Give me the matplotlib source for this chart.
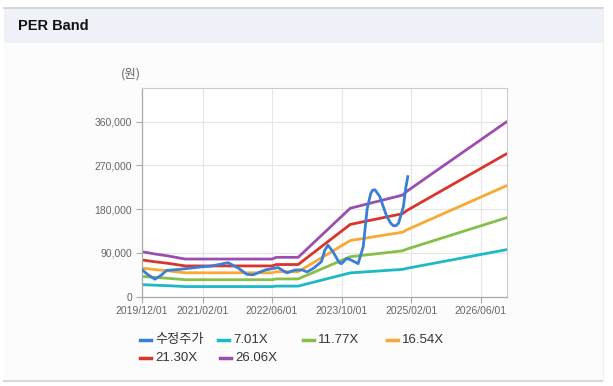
import matplotlib
matplotlib.use("Agg")
import matplotlib.pyplot as plt
from matplotlib.lines import Line2D
from matplotlib.patches import Rectangle
import numpy as np
import pandas as pd

plt.rcParams['font.family'] = ['Liberation Sans', 'Noto Sans CJK KR', 'DejaVu Sans']

# ---------------- data ----------------
band_dates = ["2019-12-01", "2020-03-01", "2020-06-01", "2020-09-01", "2020-10-01",
              "2022-06-01", "2022-07-01", "2022-12-01", "2023-12-01", "2024-12-01",
              "2025-01-01", "2026-12-01"]
band_701 = [24.9, 23.7, 22.6, 21.3, 20.8, 20.8, 21.8, 21.8, 49.0, 56.2, 58.4, 96.8]
band_1177 = [41.8, 39.8, 37.9, 35.7, 35.0, 35.0, 36.6, 36.6, 82.2, 94.4, 98.0, 162.6]
band_1654 = [58.8, 55.9, 53.3, 50.1, 49.2, 49.2, 51.4, 51.4, 115.5, 132.7, 137.7, 228.5]
band_2130 = [75.7, 71.9, 68.7, 64.6, 63.3, 63.3, 66.2, 66.2, 148.7, 170.8, 177.4, 294.2]
band_2606 = [92.6, 88.0, 84.0, 79.0, 77.5, 77.5, 81.0, 81.0, 182.0, 209.0, 217.0, 360.0]

price_dates = ["2019-12-01", "2020-01-15", "2020-03-03", "2020-04-15", "2020-05-23", "2020-08-13",
               "2021-01-13", "2021-04-01", "2021-07-28", "2021-10-01", "2021-12-07",
               "2022-01-19", "2022-04-15", "2022-07-13", "2022-09-13", "2022-11-10",
               "2022-12-31", "2023-02-01", "2023-03-16", "2023-05-13", "2023-06-05",
               "2023-06-28", "2023-08-03", "2023-09-07", "2023-09-20", "2023-10-01", "2023-11-07",
               "2023-12-10", "2024-01-25", "2024-03-01", "2024-03-28", "2024-04-22",
               "2024-05-05", "2024-05-22", "2024-06-25", "2024-07-16", "2024-08-13", "2024-09-10",
               "2024-09-28", "2024-10-15", "2024-11-03", "2024-12-07", "2024-12-25", "2025-01-07"]
price = [56, 45, 36, 44, 54, 56,
         61, 63, 70, 60, 46,
         45, 55, 60, 49, 55,
         55, 51, 58, 72, 95,
         106, 92, 74, 69, 68, 79,
         75, 68, 103, 180, 212,
         219, 220, 206, 188, 165, 151,
         146, 146, 151, 185, 226, 247]

series_names = ["수정주가", "7.01X", "11.77X", "16.54X", "21.30X", "26.06X"]
series_colors = ["#3a7fd5", "#1fb8c9", "#86bf4a", "#f7a934", "#d9352a", "#9a4fb0"]

y_ticks = [0, 90000, 180000, 270000, 360000]
x_ticks = ["2019-12-01", "2021-02-01", "2022-06-01", "2023-10-01", "2025-02-01", "2026-06-01"]

# ---------------- figure ----------------
W, H = 613, 386
fig = plt.figure(figsize=(W / 100, H / 100), dpi=100)
fig.patch.set_facecolor("white")

def fx(px):
    return px / W

def fy(py):
    return 1 - py / H

# panel background and title band
fig.patches.append(Rectangle((fx(4), fy(381)), fx(603) - fx(4), fy(43) - fy(381),
                             transform=fig.transFigure, facecolor="#fcfcfc",
                             edgecolor="none", zorder=-2))
fig.patches.append(Rectangle((fx(4), fy(43)), fx(603) - fx(4), fy(7.5) - fy(43),
                             transform=fig.transFigure, facecolor="#eef2f8",
                             edgecolor="none", zorder=-2))
fig.lines.append(Line2D([fx(4), fx(603)], [fy(7.5), fy(7.5)], transform=fig.transFigure,
                        color="#d0d0d0", lw=1.2))
fig.lines.append(Line2D([fx(4), fx(603)], [fy(381), fy(381)], transform=fig.transFigure,
                        color="#d0d0d0", lw=1.2))
fig.lines.append(Line2D([fx(603), fx(603)], [fy(7.5), fy(381)], transform=fig.transFigure,
                        color="#eeeeee", lw=0.8))
fig.text(fx(18), fy(26), "PER Band", fontsize=10.5, fontweight="bold", color="#111111",
         va="center", ha="left", family=["Liberation Sans"])

ax = fig.add_axes([fx(141.7), fy(296.7), fx(506.7) - fx(141.7), fy(87.7) - fy(296.7)])
ax.set_facecolor("white")

bd = pd.to_datetime(band_dates)
pdts = pd.to_datetime(price_dates)
bands = [band_701, band_1177, band_1654, band_2130, band_2606]
for i, vals in enumerate(bands):
    ax.plot(bd, np.array(vals) * 1000, color=series_colors[i + 1], lw=2.0,
            solid_capstyle="round", zorder=2 + i * 0.01)
ax.plot(pdts, np.array(price) * 1000, color=series_colors[0], lw=2.0, zorder=3,
        solid_joinstyle="round")

ax.set_xlim(pd.Timestamp("2019-12-01"), pd.Timestamp("2026-12-01"))
ax.set_ylim(0, 430000)
ax.set_yticks(y_ticks)
ax.set_yticklabels([f"{v:,}" for v in y_ticks])
xt = pd.to_datetime(x_ticks)
ax.set_xticks(xt)
ax.set_xticklabels([d.strftime("%Y/%m/%d") for d in xt])

ax.grid(True, color="#e6e6e6", lw=0.8)
ax.set_axisbelow(True)
for s in ["top", "right"]:
    ax.spines[s].set_color("#cccccc")
    ax.spines[s].set_linewidth(0.8)
for s in ["left", "bottom"]:
    ax.spines[s].set_color("#aaaaaa")
    ax.spines[s].set_linewidth(0.9)
ax.tick_params(axis="both", colors="#aaaaaa", labelcolor="#666666", labelsize=7.5,
               length=4, width=0.8)
ax.tick_params(axis="x", pad=3)
ax.tick_params(axis="y", pad=3)

fig.text(fx(121), fy(74), "(원)", fontsize=9, color="#666666", ha="left", va="center",
         family=["Noto Sans CJK KR", "DejaVu Sans"])

# legend (manual)
legend_pos = [(139, 340), (217, 340), (302, 340), (386, 340), (139, 358), (219, 358)]
for name, col, (lx, ly) in zip(series_names, series_colors, legend_pos):
    fig.lines.append(Line2D([fx(lx + 1), fx(lx + 12)], [fy(ly), fy(ly)],
                            transform=fig.transFigure, color=col, lw=2.5))
    fig.text(fx(lx + 16), fy(ly), name, fontsize=9.5, color="#333333",
             ha="left", va="center", family=["Liberation Sans", "Noto Sans CJK KR"])

fig.savefig("out.png", dpi=100)
